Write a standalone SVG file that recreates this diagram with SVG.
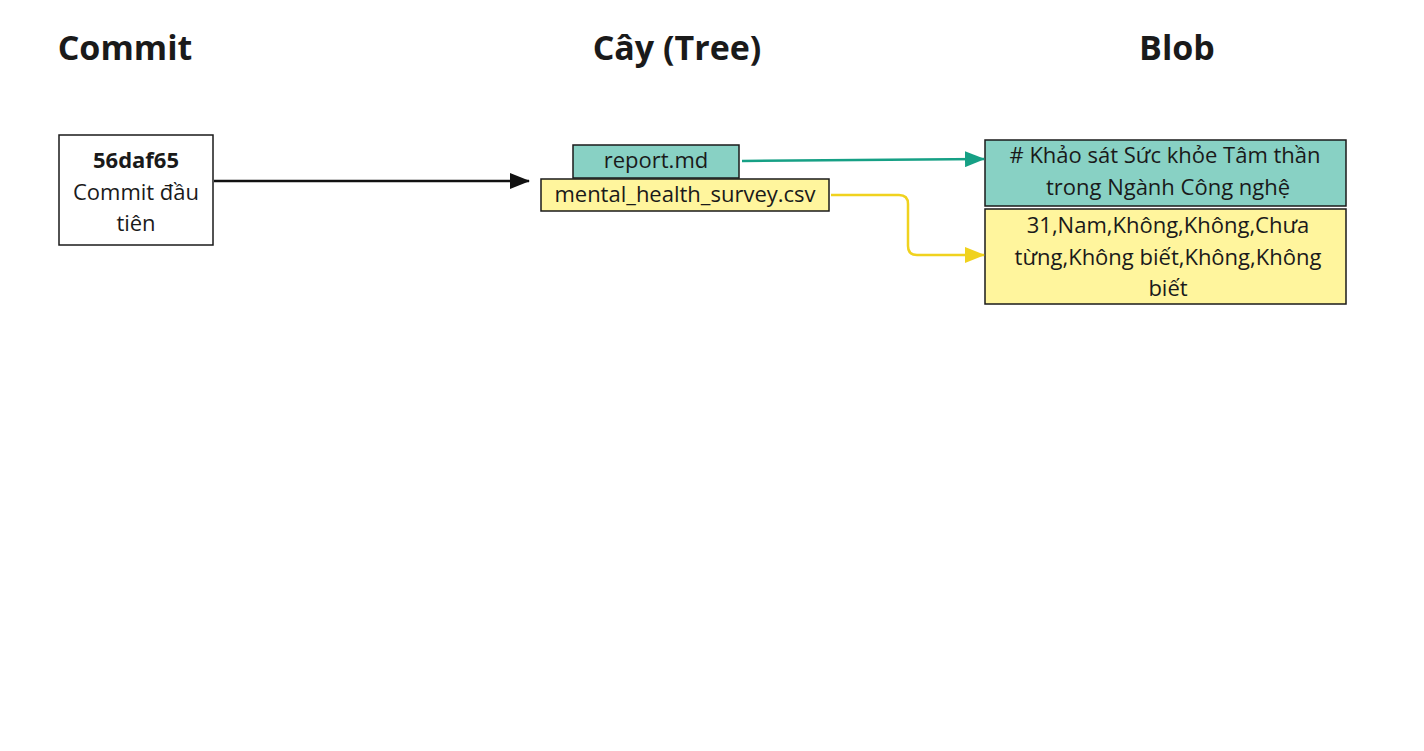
<svg xmlns="http://www.w3.org/2000/svg" width="1424" height="751" viewBox="0 0 1424 751">
<style>
text{font-family:"Open Sans","Noto Sans",sans-serif;fill:#1a1a1a}
.h{font-size:34px;font-weight:bold;text-anchor:middle}
.t{font-size:22px;text-anchor:middle}
.box{stroke:#1a1a1a;stroke-width:1.5}
</style>
<defs>
<marker id="ag" markerWidth="20" markerHeight="16" refX="19" refY="8" orient="auto" markerUnits="userSpaceOnUse"><path d="M0,0 L20,8 L0,16z" fill="#16a085"/></marker>
<marker id="ay" markerWidth="20" markerHeight="16" refX="19" refY="8" orient="auto" markerUnits="userSpaceOnUse"><path d="M0,0 L20,8 L0,16z" fill="#f0d21e"/></marker>
<marker id="ab" markerWidth="20" markerHeight="16" refX="19" refY="8" orient="auto" markerUnits="userSpaceOnUse"><path d="M0,0 L20,8 L0,16z" fill="#111"/></marker>
</defs>
<rect width="1424" height="751" fill="#fff"/>
<text class="h" x="125" y="60">Commit</text>
<text class="h" x="677" y="60">Cây (Tree)</text>
<text class="h" x="1177" y="60">Blob</text>
<g id="commit"><rect class="box" x="59" y="135" width="154" height="110" fill="#fff"/>
<text class="t" x="136" y="168" font-weight="bold">56daf65</text>
<text class="t" x="136" y="200">Commit đầu</text>
<text class="t" x="136" y="231">tiên</text></g>
<g id="report"><rect class="box" x="573" y="145" width="166" height="33" fill="#88d1c4"/>
<text class="t" x="656" y="168">report.md</text></g>
<g id="csv"><rect class="box" x="541" y="179" width="288" height="32" fill="#fff59d"/>
<text class="t" x="685" y="202">mental_health_survey.csv</text></g>
<g id="blob1"><rect class="box" x="985" y="140" width="361" height="66" fill="#88d1c4"/>
<text class="t" x="1165" y="163"># Khảo sát Sức khỏe Tâm thần</text>
<text class="t" x="1168" y="195">trong Ngành Công nghệ</text></g>
<g id="blob2"><rect class="box" x="985" y="209" width="361" height="95" fill="#fff59d"/>
<text class="t" x="1168" y="233">31,Nam,Không,Không,Chưa</text>
<text class="t" x="1168" y="265">từng,Không biết,Không,Không</text>
<text class="t" x="1168" y="296">biết</text></g>
<g id="connectors" fill="none" stroke-width="2.5">
<path d="M214,181 L529,181" stroke="#111" marker-end="url(#ab)"/>
<path d="M742,161 L984,159" stroke="#16a085" marker-end="url(#ag)"/>
<path d="M831,195 L899,195 Q908,195 908,204 L908,246 Q908,255 917,255 L984,255" stroke="#f0d21e" marker-end="url(#ay)"/>
</g>
</svg>
